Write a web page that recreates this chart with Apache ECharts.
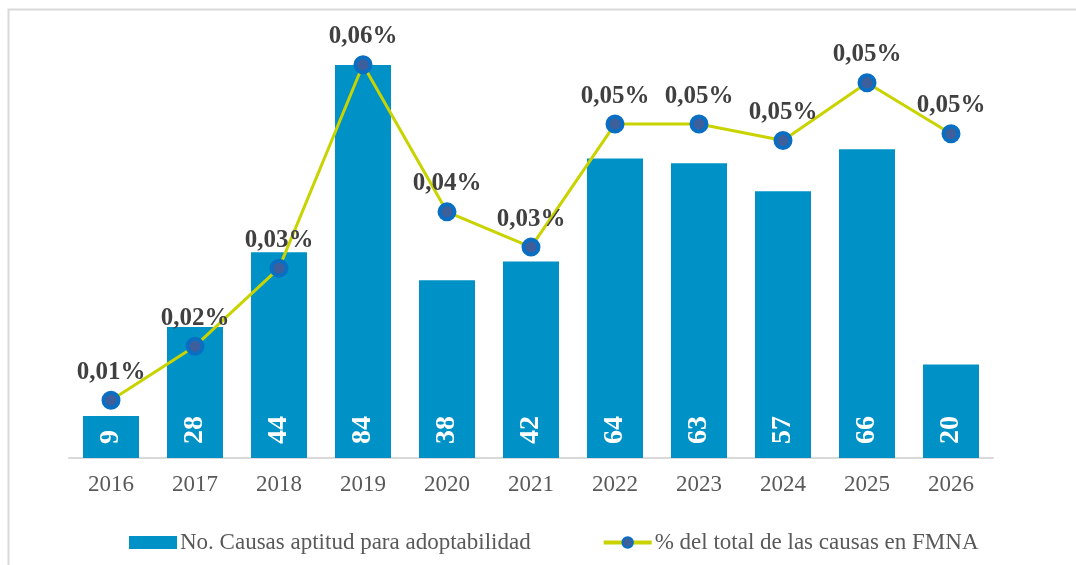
<!DOCTYPE html>
<html>
<head>
<meta charset="utf-8">
<script src="https://cdn.jsdelivr.net/npm/echarts@6/dist/echarts.min.js"></script>
<style>
html,body{margin:0;padding:0;background:#fff;}
#chart{width:1076px;height:565px;}
</style>
</head>
<body>
<div id="chart"></div>
<script>
var categories = ['2016','2017','2018','2019','2020','2021','2022','2023','2024','2025','2026'];
var causasValues = [9, 28, 44, 84, 38, 42, 64, 63, 57, 66, 20];
var porcentajeValues = [0.0113, 0.0185, 0.0289, 0.0560, 0.0364, 0.0317, 0.0481, 0.0481, 0.0459, 0.0536, 0.0468];
var seriesNames = ['No. Causas aptitud para adoptabilidad', '% del total de las causas en FMNA'];

var FONT = '"Liberation Serif", "DejaVu Serif", serif';
var chart = echarts.init(document.getElementById('chart'), null, {renderer: 'canvas'});
chart.setOption({
  backgroundColor: '#ffffff',
  animation: false,
  graphic: [{
    type: 'rect', silent: true, z: -10,
    shape: {x: 8.5, y: 9.5, width: 1200, height: 700},
    style: {fill: 'none', stroke: '#d9d9d9', lineWidth: 2}
  }],
  grid: {left: 69, right: 83, top: 37, bottom: 107},
  legend: {
    left: 124, top: 526,
    itemWidth: 48, itemHeight: 13, itemGap: 71,
    textStyle: {fontFamily: FONT, fontSize: 23, color: '#595959', padding: [0,0,0,-2]},
    data: [
      {name: seriesNames[0], icon: 'rect'},
      {name: seriesNames[1], lineStyle: {width: 4}}
    ]
  },
  xAxis: {
    type: 'category', data: categories,
    axisTick: {show: false},
    axisLine: {lineStyle: {color: '#d9d9d9', width: 2}},
    axisLabel: {fontFamily: FONT, fontSize: 23, color: '#595959', margin: 15}
  },
  yAxis: [
    {type: 'value', min: 0, max: 90, show: false, splitLine: {show: false}},
    {type: 'value', min: 0.0036, max: 0.0597, show: false, splitLine: {show: false}}
  ],
  series: [
    {
      name: seriesNames[0], type: 'bar', data: causasValues, barWidth: 56,
      itemStyle: {color: '#0092C6'},
      label: {
        show: true, position: 'insideBottom', rotate: 90,
        align: 'left', verticalAlign: 'middle', distance: 14,
        fontFamily: FONT, fontWeight: 'bold', fontSize: 28, color: '#ffffff'
      }
    },
    {
      name: seriesNames[1], type: 'line', yAxisIndex: 1, data: porcentajeValues,
      lineStyle: {color: '#C8D300', width: 3},
      symbol: 'circle', symbolSize: 15,
      itemStyle: {color: '#3D5F9C', borderColor: '#0A6FC2', borderWidth: 4},
      label: {
        show: true, position: 'top', distance: 6,
        fontFamily: FONT, fontWeight: 'bold', fontSize: 25, color: '#404040',
        formatter: function (p) { return p.value.toFixed(2).replace('.', ',') + '%'; }
      },
      z: 5
    }
  ]
});
</script>
</body>
</html>
